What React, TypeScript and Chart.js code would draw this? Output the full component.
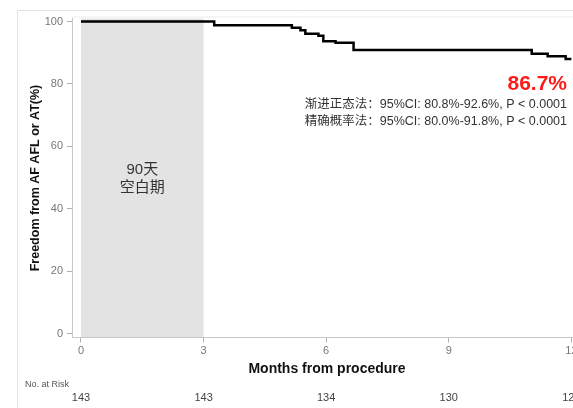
import React, { useEffect, useRef } from 'react';
import { Chart, registerables } from 'chart.js';

Chart.register(...registerables);

// ---- data ----
const months = [0, 3.26, 5.16, 5.37, 5.49, 5.81, 5.93, 6.23, 6.67, 11.03, 11.42, 11.86, 12.0];
const freedom = [100, 98.8, 98.0, 97.2, 96.1, 95.4, 93.7, 93.2, 90.9, 89.7, 88.9, 88.0, 88.0];
const xTicks = [0, 3, 6, 9, 12];
const yTicks = [0, 20, 40, 60, 80, 100];
const atRisk = ['143', '143', '134', '130', '127'];
const blankStart = 0;
const blankEnd = 3;
const blankLabel = ['90天', '空白期'];
const headline = '86.7%';
const ciLines = [
  '渐进正态法：95%CI: 80.8%-92.6%, P < 0.0001',
  '精确概率法：95%CI: 80.0%-91.8%, P < 0.0001',
];
const yTitle = 'Freedom from AF AFL or AT(%)';
const xTitle = 'Months from procedure';
const riskTitle = 'No. at Risk';

const FONT = '"Liberation Sans", Arial, "Noto Sans CJK SC", sans-serif';

const overlay = {
  id: 'overlay',
  beforeDraw(chart: any) {
    const { ctx, chartArea: a } = chart;
    const xs = chart.scales.x;
    ctx.save();
    // outer frame
    ctx.strokeStyle = '#e2e2e2';
    ctx.lineWidth = 1;
    ctx.beginPath();
    ctx.moveTo(17.5, chart.height);
    ctx.lineTo(17.5, 10.5);
    ctx.lineTo(chart.width, 10.5);
    ctx.stroke();
    // plot top border
    ctx.strokeStyle = '#ececec';
    ctx.beginPath();
    ctx.moveTo(a.left, a.top - 1.5);
    ctx.lineTo(chart.width, a.top - 1.5);
    ctx.stroke();
    // blanking band
    const x0 = xs.getPixelForValue(blankStart);
    const x1 = xs.getPixelForValue(blankEnd);
    ctx.fillStyle = '#e3e3e3';
    ctx.fillRect(x0, a.top, x1 - x0, a.bottom - a.top);
    ctx.fillStyle = '#333';
    ctx.font = `15px ${FONT}`;
    ctx.textAlign = 'center';
    ctx.textBaseline = 'middle';
    const cx = (x0 + x1) / 2;
    blankLabel.forEach((t, i) => ctx.fillText(t, cx, 170 + i * 18));
    ctx.restore();
  },
  afterDraw(chart: any) {
    const { ctx } = chart;
    const xs = chart.scales.x;
    ctx.save();
    ctx.textAlign = 'right';
    ctx.textBaseline = 'middle';
    ctx.fillStyle = '#ff1a1a';
    ctx.font = `bold 21px ${FONT}`;
    ctx.fillText(headline, 567, 84);
    ctx.fillStyle = '#333';
    ctx.font = `12.5px ${FONT}`;
    ciLines.forEach((t, i) => ctx.fillText(t, 567, 105 + i * 17));
    // risk table
    ctx.textAlign = 'left';
    ctx.fillStyle = '#555';
    ctx.font = `9px ${FONT}`;
    ctx.fillText(riskTitle, 25, 385);
    ctx.textAlign = 'center';
    ctx.fillStyle = '#444';
    ctx.font = `11px ${FONT}`;
    xTicks.forEach((m, i) => ctx.fillText(atRisk[i], xs.getPixelForValue(m), 398));
    ctx.restore();
  },
};

export default function App() {
  const ref = useRef<HTMLCanvasElement>(null);
  useEffect(() => {
    if (!ref.current) return;
    const chart = new Chart(ref.current, {
      type: 'line',
      data: {
        datasets: [
          {
            data: months.map((m, i) => ({ x: m, y: freedom[i] })),
            borderColor: '#000',
            borderWidth: 2.5,
            pointRadius: 0,
            stepped: true,
            fill: false,
          },
        ],
      },
      options: {
        animation: false,
        responsive: false,
        devicePixelRatio: 1,
        layout: { padding: { top: 18.5, bottom: 30, left: 0, right: 0 } },
        plugins: { legend: { display: false }, tooltip: { enabled: false } },
        scales: {
          x: {
            type: 'linear',
            min: -0.22,
            max: 12.26,
            afterBuildTicks: (s: any) => {
              s.ticks = xTicks.map((v) => ({ value: v }));
            },
            afterFit: (s: any) => {
              s.height = 40.5;
            },
            grid: { drawOnChartArea: false, drawTicks: true, tickLength: 5, color: '#b0b0b0' },
            border: { display: true, color: '#c8c8c8' },
            ticks: { color: '#777', font: { size: 11, family: FONT }, padding: 2, autoSkip: false, maxRotation: 0 },
            title: {
              display: true,
              text: xTitle,
              color: '#111',
              font: { size: 14, weight: 'bold', family: FONT },
              padding: { top: 0, bottom: 0 },
            },
          },
          y: {
            min: -1.28,
            max: 100.96,
            afterBuildTicks: (s: any) => {
              s.ticks = yTicks.map((v) => ({ value: v }));
            },
            afterFit: (s: any) => {
              s.width = 72;
            },
            grid: { drawOnChartArea: false, drawTicks: true, tickLength: 5, color: '#b0b0b0' },
            border: { display: true, color: '#c8c8c8' },
            ticks: { color: '#777', font: { size: 11, family: FONT }, padding: 4 },
            title: {
              display: true,
              text: yTitle,
              color: '#111',
              font: { size: 12.5, weight: 'bold', family: FONT },
              padding: { top: 28, bottom: 0 },
            },
          },
        },
      },
      plugins: [overlay],
    } as any);
    return () => chart.destroy();
  }, []);
  return (
    <div
      style={{
        position: 'fixed',
        left: 0,
        top: 0,
        width: 573,
        height: 408,
        overflow: 'hidden',
        background: '#fff',
      }}
    >
      <canvas ref={ref} width={582} height={408} style={{ display: 'block' }} />
    </div>
  );
}
